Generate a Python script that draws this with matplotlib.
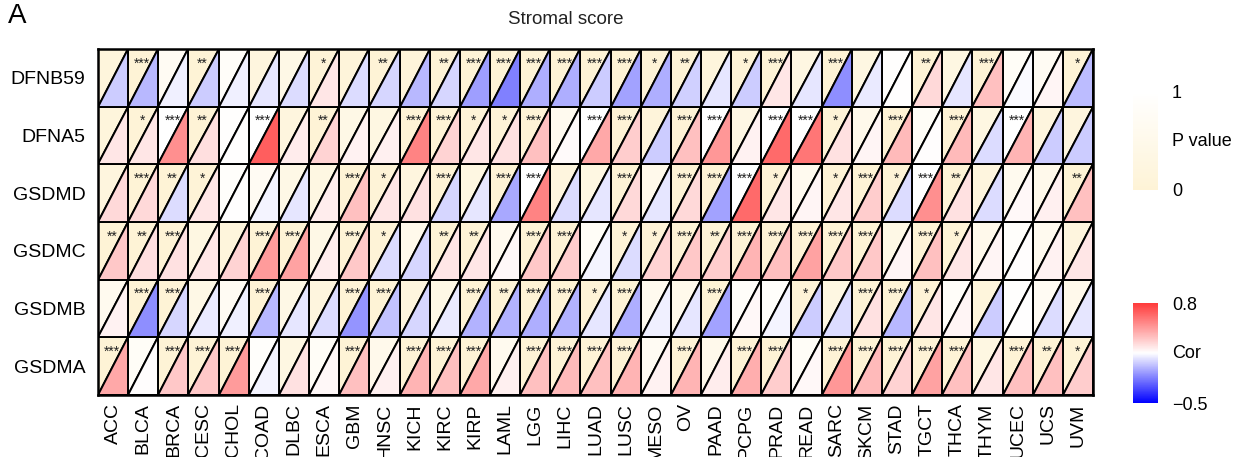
import numpy as np
import matplotlib
matplotlib.use('Agg')
import matplotlib.pyplot as plt
from matplotlib.collections import PolyCollection
from matplotlib.colors import LinearSegmentedColormap, TwoSlopeNorm, Normalize
from matplotlib.cm import ScalarMappable

plt.rcParams['font.family'] = ['Liberation Sans', 'DejaVu Sans']

# cancer types (columns) and genes (rows, top to bottom)
cancers = ['ACC', 'BLCA', 'BRCA', 'CESC', 'CHOL', 'COAD', 'DLBC', 'ESCA', 'GBM', 'HNSC',
           'KICH', 'KIRC', 'KIRP', 'LAML', 'LGG', 'LIHC', 'LUAD', 'LUSC', 'MESO', 'OV',
           'PAAD', 'PCPG', 'PRAD', 'READ', 'SARC', 'SKCM', 'STAD', 'TGCT', 'THCA', 'THYM',
           'UCEC', 'UCS', 'UVM']
genes = ['DFNB59', 'DFNA5', 'GSDMD', 'GSDMC', 'GSDMB', 'GSDMA']

# correlation with stromal score
cor_DFNB59 = [-0.1, -0.14, -0.03, -0.1, -0.03, -0.05, -0.07, 0.1, -0.07, -0.08, -0.14, -0.08, -0.19, -0.25, -0.16,
              -0.16, -0.1, -0.18, -0.16, -0.09, -0.05, -0.1, 0.1, -0.05, -0.22, -0.04, 0.0, 0.15, -0.05, 0.25,
              -0.01, 0.04, -0.13]
cor_DFNA5 = [0.1, 0.1, 0.45, 0.13, 0.0, 0.65, 0.08, 0.18, 0.05, 0.06, 0.5, 0.18, 0.1, 0.12, 0.25, 0.02, 0.35,
             0.2, -0.1, 0.25, 0.42, 0.05, 0.6, 0.55, 0.12, 0.04, 0.28, 0.01, 0.28, -0.07, 0.3, -0.1, -0.1]
cor_GSDMD = [0.15, 0.15, -0.07, 0.1, 0.0, -0.02, -0.05, 0.07, 0.25, 0.1, 0.12, -0.08, -0.05, -0.17, 0.5, -0.07,
             -0.05, 0.15, -0.05, 0.15, -0.18, 0.6, 0.1, 0.04, 0.1, 0.2, -0.07, 0.45, 0.12, -0.07, 0.03, 0.06, 0.25]
cor_GSDMC = [0.22, 0.13, 0.12, 0.1, 0.18, 0.4, 0.38, 0.07, 0.22, -0.07, -0.08, 0.1, 0.1, 0.03, 0.22, 0.2, -0.02,
             -0.07, 0.18, 0.22, 0.2, 0.3, 0.25, 0.38, 0.22, 0.22, 0.04, 0.25, 0.1, 0.04, 0.01, 0.05, 0.1]
cor_GSDMB = [0.05, -0.22, -0.08, -0.04, -0.03, -0.14, -0.05, -0.07, -0.21, -0.12, -0.08, -0.04, -0.15, -0.15, -0.16,
             -0.15, -0.05, -0.16, -0.03, -0.05, -0.18, 0.03, -0.02, -0.1, -0.07, 0.12, -0.14, 0.1, 0.04, -0.1,
             0.0, -0.07, -0.05]
cor_GSDMA = [0.35, 0.01, 0.22, 0.22, 0.4, -0.02, 0.12, 0.03, 0.25, 0.06, 0.3, 0.25, 0.35, 0.06, 0.25, 0.28, 0.25,
             0.3, 0.05, 0.3, 0.07, 0.33, 0.2, 0.03, 0.42, 0.28, 0.18, 0.38, 0.25, 0.1, 0.25, 0.25, 0.2]

# p value shading (as drawn)
p_DFNB59 = [0.15, 0.001, 0.7, 0.01, 0.85, 0.2, 0.4, 0.02, 0.1, 0.01, 0.1, 0.01, 0.001, 0.001, 0.001, 0.001, 0.001,
            0.001, 0.02, 0.01, 0.15, 0.02, 0.001, 0.3, 0.001, 0.3, 0.95, 0.01, 0.3, 0.001, 0.8, 0.7, 0.02]
p_DFNA5 = [0.15, 0.02, 1.0, 0.01, 0.95, 1.0, 0.2, 0.01, 0.4, 0.3, 0.001, 0.001, 0.02, 0.02, 0.001, 0.6, 1.0,
           0.001, 0.1, 0.001, 1.0, 0.35, 1.0, 1.0, 0.02, 0.5, 0.001, 0.8, 0.001, 0.3, 1.0, 0.2, 0.2]
p_GSDMD = [0.2, 0.001, 0.01, 0.02, 0.9, 0.7, 0.4, 0.3, 0.001, 0.02, 0.2, 0.001, 0.3, 0.001, 1.0, 0.2, 0.3, 0.001,
           0.5, 0.001, 0.001, 1.0, 0.02, 0.6, 0.02, 0.001, 0.02, 1.0, 0.01, 0.2, 0.6, 0.5, 0.01]
p_GSDMC = [0.01, 0.01, 0.001, 0.3, 0.15, 0.001, 0.001, 0.4, 0.001, 0.02, 0.5, 0.01, 0.01, 0.6, 0.001, 0.001, 0.8,
           0.02, 0.02, 0.001, 0.01, 0.001, 0.001, 0.001, 0.001, 0.001, 0.4, 0.001, 0.02, 0.5, 0.9, 0.6, 0.2]
p_GSDMB = [0.6, 0.001, 0.001, 0.4, 0.7, 0.001, 0.4, 0.2, 0.001, 0.001, 0.2, 0.4, 0.001, 0.01, 0.001, 0.001, 0.02,
           0.001, 0.6, 0.5, 0.001, 0.85, 0.9, 0.02, 0.3, 0.001, 0.001, 0.02, 0.85, 0.15, 0.95, 0.7, 0.5]
p_GSDMA = [0.001, 0.8, 0.001, 0.001, 0.001, 0.9, 0.3, 0.8, 0.001, 0.5, 0.001, 0.001, 0.001, 0.6, 0.001, 0.001,
           0.001, 0.001, 0.7, 0.001, 0.5, 0.001, 0.001, 0.8, 0.001, 0.001, 0.001, 0.001, 0.001, 0.3, 0.001, 0.01, 0.02]

# significance stars
s_DFNB59 = ['', '***', '', '**', '', '', '', '*', '', '**', '', '**', '***', '***', '***', '***', '***', '***',
            '*', '**', '', '*', '***', '', '***', '', '', '**', '', '***', '', '', '*']
s_DFNA5 = ['', '*', '***', '**', '', '***', '', '**', '', '', '***', '***', '*', '*', '***', '', '***', '***',
           '', '***', '***', '', '***', '***', '*', '', '***', '', '***', '', '***', '', '']
s_GSDMD = ['', '***', '**', '*', '', '', '', '', '***', '*', '', '***', '', '***', '***', '', '', '***', '',
           '***', '***', '***', '*', '', '*', '***', '*', '***', '**', '', '', '', '**']
s_GSDMC = ['**', '**', '***', '', '', '***', '***', '', '***', '*', '', '**', '**', '', '***', '***', '', '*',
           '*', '***', '**', '***', '***', '***', '***', '***', '', '***', '*', '', '', '', '']
s_GSDMB = ['', '***', '***', '', '', '***', '', '', '***', '***', '', '', '***', '**', '***', '***', '*', '***',
           '', '', '***', '', '', '*', '', '***', '***', '*', '', '', '', '', '']
s_GSDMA = ['***', '', '***', '***', '***', '', '', '', '***', '', '***', '***', '***', '', '***', '***', '***',
           '***', '', '***', '', '***', '***', '', '***', '***', '***', '***', '***', '', '***', '**', '*']

cor = np.array([cor_DFNB59, cor_DFNA5, cor_GSDMD, cor_GSDMC, cor_GSDMB, cor_GSDMA])
pval = np.array([p_DFNB59, p_DFNA5, p_GSDMD, p_GSDMC, p_GSDMB, p_GSDMA])
stars = [s_DFNB59, s_DFNA5, s_GSDMD, s_GSDMC, s_GSDMB, s_GSDMA]

cor_cmap = LinearSegmentedColormap.from_list('cor', ['#0000FF', '#FFFFFF', '#FF3A3A'])
cor_norm = TwoSlopeNorm(vmin=-0.5, vcenter=0, vmax=0.8)
p_cmap = LinearSegmentedColormap.from_list('pv', ['#FEF3D6', '#FFFFFF'])
p_norm = Normalize(0, 1)

nr, nc = cor.shape
fig = plt.figure(figsize=(12.44, 4.57), dpi=100)
ax = fig.add_axes([98 / 1244, 1 - 395 / 457, 995 / 1244, 346 / 457])

upper, lower, up_c, lo_c = [], [], [], []
for r in range(nr):
    y = nr - 1 - r
    for c in range(nc):
        upper.append([(c, y), (c, y + 1), (c + 1, y + 1)])
        lower.append([(c, y), (c + 1, y), (c + 1, y + 1)])
        up_c.append(p_cmap(p_norm(pval[r, c])))
        lo_c.append(cor_cmap(cor_norm(cor[r, c])))
        if stars[r][c]:
            ax.text(c + 0.47, y + 0.75, stars[r][c], ha='center', va='center', fontsize=10, color='#222222')

ax.add_collection(PolyCollection(upper, facecolors=up_c, edgecolors='black', linewidths=1.4))
ax.add_collection(PolyCollection(lower, facecolors=lo_c, edgecolors='black', linewidths=1.4))
ax.set_xlim(0, nc)
ax.set_ylim(0, nr)
ax.set_xticks(np.arange(nc) + 0.5)
ax.set_xticklabels(cancers, rotation=90, fontsize=14, va='top')
ax.set_yticks(np.arange(nr) + 0.5)
ax.set_yticklabels(genes[::-1], fontsize=14)
ax.tick_params(length=0, pad=6)
ax.tick_params(axis='y', pad=9)
for s in ax.spines.values():
    s.set_linewidth(1.8)

fig.text(566 / 1244, 1 - 19 / 457, 'Stromal score', ha='center', va='center', fontsize=13.5, color='#222222')
fig.text(8 / 1244, 1 - 16 / 457, 'A', ha='left', va='center', fontsize=20)

# legends
cax1 = fig.add_axes([1133 / 1244, 1 - 190 / 457, 25 / 1244, 98 / 457])
cb1 = fig.colorbar(ScalarMappable(norm=p_norm, cmap=p_cmap), cax=cax1)
cb1.set_ticks([0, 1])
cb1.set_ticklabels(['0', '1'])
cb1.outline.set_visible(False)
cax1.tick_params(length=0, labelsize=13, pad=10)
cax1.text(1.56, 0.5, 'P value', transform=cax1.transAxes, ha='left', va='center', fontsize=13)

cax2 = fig.add_axes([1133 / 1244, 1 - 403 / 457, 25 / 1244, 100 / 457])
cb2 = fig.colorbar(ScalarMappable(norm=cor_norm, cmap=cor_cmap), cax=cax2)
cb2.set_ticks([-0.5, 0.8])
cb2.set_ticklabels(['\u22120.5', '0.8'])
cb2.outline.set_visible(False)
cax2.tick_params(length=0, labelsize=13, pad=10)
cax2.text(1.56, 0.5, 'Cor', transform=cax2.transAxes, ha='left', va='center', fontsize=13)

fig.savefig('out.png', dpi=100)
